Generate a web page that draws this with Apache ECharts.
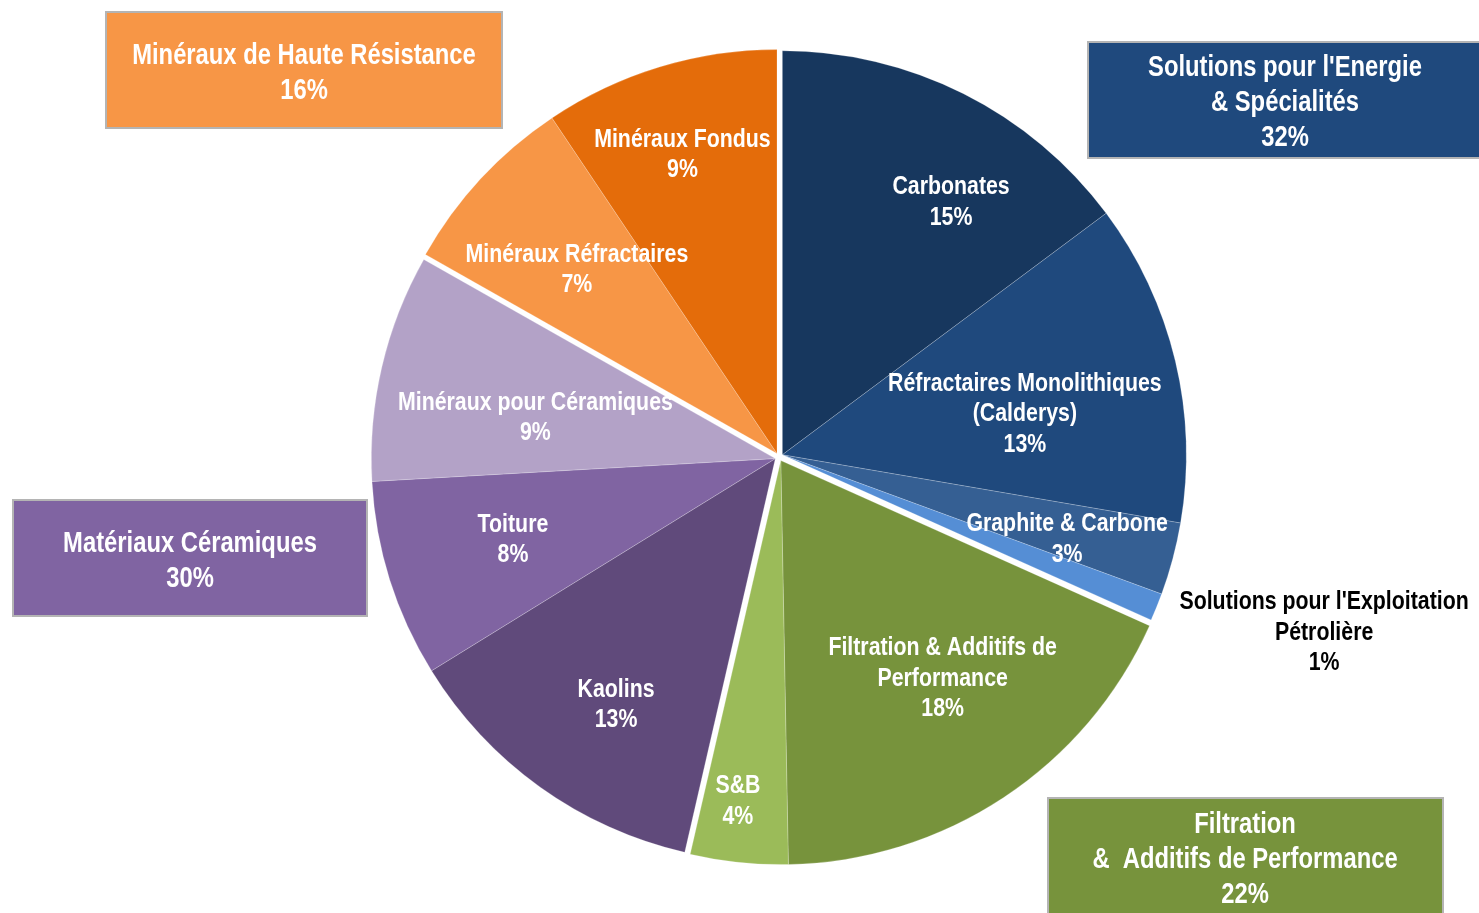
<!DOCTYPE html>
<html>
<head>
<meta charset="utf-8">
<script src="https://cdn.jsdelivr.net/npm/echarts@6/dist/echarts.min.js"></script>
<style>
  html, body { margin: 0; padding: 0; background: #ffffff; }
  #chart { width: 1479px; height: 913px; }
</style>
</head>
<body>
<div id="chart"></div>
<script>
// slices, clockwise from 12 o'clock
const segments = ['Carbonates', 'Réfractaires Monolithiques\n(Calderys)', 'Graphite & Carbone',
  "Solutions pour l'Exploitation\nPétrolière", 'Filtration & Additifs de\nPerformance', 'S&B',
  'Kaolins', 'Toiture', 'Minéraux pour Céramiques', 'Minéraux Réfractaires', 'Minéraux Fondus'];
const shares = [14.8, 12.9, 2.9, 1.1, 18.0, 3.9, 12.6, 7.9, 9.1, 7.4, 9.4];
const segmentGroup = [0, 0, 0, 0, 1, 1, 2, 2, 2, 3, 3];

const groups = ["Solutions pour l'Energie\n& Spécialités", 'Filtration\n&  Additifs de Performance',
  'Matériaux Céramiques', 'Minéraux de Haute Résistance'];
const groupShares = [32, 22, 30, 16];

// styling / layout
const colors = ['#17375e', '#1f497d', '#355f93', '#558ed5', '#77933c', '#9bbb59',
  '#604a7b', '#8064a2', '#b3a2c7', '#f79646', '#e46c0a'];
const groupColors = ['#1f497d', '#77933c', '#8064a2', '#f79646'];
const groupBoxes = [[1088, 42, 400, 116], [1048, 798, 395, 125], [13, 500, 354, 116], [106, 12, 396, 116]];
const groupTextAt = [[1285, 103], [1245, 860], [190, 561], [304, 73]];
// label radius (px) and angle tweak (deg) relative to slice middle
const labelSpots = [[309, 7.2], [250, 3.1], [299, 0.6], [572, -4.5], [274, -3.2], [345, 0.9],
  [295, -2.1], [278, 0.6], [247, -3.6], [277, 0.3], [319, -0.7]];

const CX = 779, CY = 457, R = 404, SHIFT = 4;
const TEXT_DY = 2;
const FONT = "'Liberation Sans', Arial, sans-serif";
const NARROW = 0.82; // Arial Narrow look

const total = shares.reduce((a, b) => a + b, 0);
const mids = [];
let acc = 0;
shares.forEach(v => { mids.push((acc + v / 2) / total * 360); acc += v; });

const groupMid = groups.map((g, gi) => {
  let s = 0, lo = null, hi = 0;
  shares.forEach((v, i) => {
    if (segmentGroup[i] === gi) { if (lo === null) lo = s; hi = s + v; }
    s += v;
  });
  return (lo + hi) / 2 / total * 360;
});

const rad = d => d * Math.PI / 180;

// one pie per group, nudged outwards so the groups look pulled apart
const series = groups.map((g, gi) => {
  const a = rad(groupMid[gi]);
  return {
    type: 'pie',
    silent: true,
    radius: R,
    center: [CX + SHIFT * Math.sin(a), CY - SHIFT * Math.cos(a)],
    startAngle: 90,
    clockwise: true,
    label: { show: false },
    labelLine: { show: false },
    data: shares.map((v, i) => ({
      name: segments[i],
      value: v,
      itemStyle: segmentGroup[i] === gi
        ? { color: colors[i], borderColor: 'rgba(255,255,255,0.35)', borderWidth: 0.6 }
        : { color: 'rgba(0,0,0,0)', borderWidth: 0 }
    }))
  };
});

const textStyle = (text, color, size, lh) => ({
  text: text,
  fill: color,
  fontFamily: FONT,
  fontWeight: 'bold',
  fontSize: size,
  lineHeight: lh,
  align: 'center',
  verticalAlign: 'middle'
});

const sliceLabels = shares.map((v, i) => {
  const [r, da] = labelSpots[i];
  const ang = rad(mids[i] + da);
  return {
    type: 'text',
    silent: true,
    z: 10,
    x: CX + r * Math.sin(ang),
    y: CY - r * Math.cos(ang) + TEXT_DY,
    scaleX: NARROW,
    style: textStyle(segments[i] + '\n' + Math.round(v) + '%', i === 3 ? '#000000' : '#ffffff', 26, 30.5)
  };
});

const groupLabels = groups.map((g, gi) => {
  const [x, y, w, h] = groupBoxes[gi];
  return {
    type: 'group',
    children: [
      {
        type: 'rect',
        shape: { x: x, y: y, width: w, height: h },
        style: { fill: groupColors[gi], stroke: '#b4b4b4', lineWidth: 2 }
      },
      {
        type: 'text',
        x: groupTextAt[gi][0],
        y: groupTextAt[gi][1],
        scaleX: NARROW,
        style: textStyle(g + '\n' + groupShares[gi] + '%', '#ffffff', 29, 35)
      }
    ]
  };
});

const chart = echarts.init(document.getElementById('chart'));
chart.setOption({
  backgroundColor: '#ffffff',
  animation: false,
  series: series,
  graphic: sliceLabels.concat(groupLabels)
});
</script>
</body>
</html>
